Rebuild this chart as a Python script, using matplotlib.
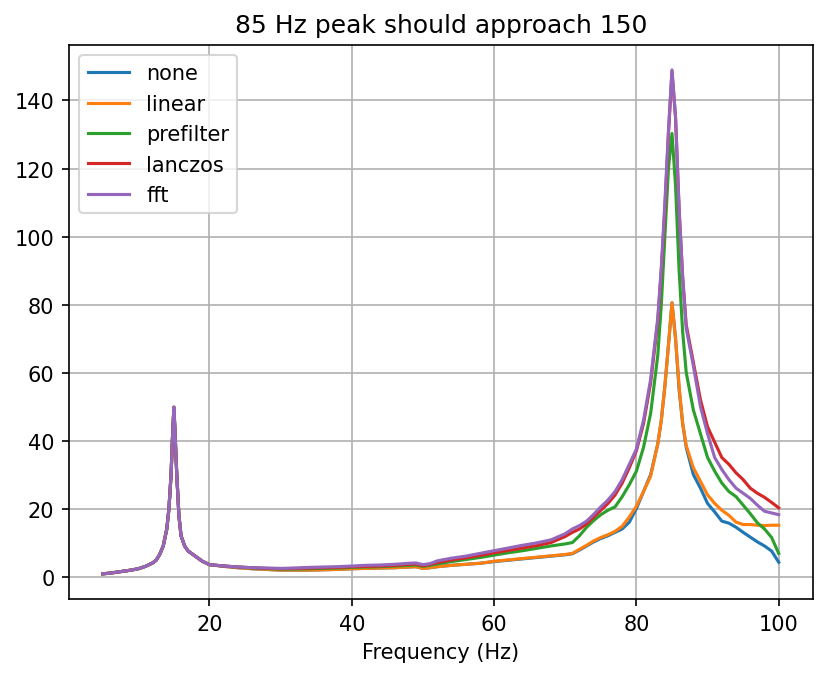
import numpy as np
import matplotlib
matplotlib.use('Agg')
import matplotlib.pyplot as plt

# shared low-frequency part (all methods agree around the 15 Hz peak)
freq_low = [5, 6, 7, 8, 9, 10, 11, 12, 12.5, 13, 13.5, 14, 14.3, 14.6, 14.8, 15,
            15.2, 15.4, 15.7, 16, 16.5, 17, 18, 19]
peak_low = [0.8, 1.0, 1.3, 1.6, 1.9, 2.3, 3.0, 4.0, 4.8, 6.5, 9.0, 14.0, 20.0, 30.0, 41.0, 49.8,
            40.0, 30.0, 18.0, 12.0, 9.0, 7.5, 6.0, 4.5]

freq_high = [20, 22, 24, 26, 28, 30, 32, 34, 36, 38, 40, 42, 44, 46, 48, 49, 50, 51, 52,
             54, 56, 58, 60, 62, 64, 66, 68, 70, 71, 72, 73, 74, 75, 76, 77, 78, 79, 80,
             81, 82, 83, 83.5, 84, 84.5, 85, 85.5, 86, 86.5, 87, 88, 89, 90, 91, 92, 93,
             94, 95, 96, 97, 98, 99, 100]

none_high = [3.5, 3.0, 2.6, 2.3, 2.1, 1.9, 1.9, 1.9, 2.0, 2.1, 2.3, 2.4, 2.5, 2.6, 2.8, 2.9, 2.4, 2.6, 2.9,
             3.3, 3.6, 3.9, 4.4, 4.8, 5.2, 5.6, 6.0, 6.4, 6.7, 7.8, 9.0, 10.2, 11.2, 12.0, 13.0, 14.0, 16.0, 20.0,
             25.0, 30.0, 39.0, 46.0, 56.0, 68.0, 80.5, 70.0, 55.0, 45.0, 38.0, 30.0, 26.0, 21.5, 19.0, 16.3, 15.7,
             14.5, 13.0, 11.6, 10.2, 9.0, 7.5, 4.2]

linear_high = [3.5, 3.0, 2.6, 2.3, 2.1, 1.9, 1.9, 1.9, 2.0, 2.1, 2.3, 2.4, 2.5, 2.6, 2.8, 2.9, 2.4, 2.6, 2.9,
               3.3, 3.6, 3.9, 4.5, 4.9, 5.3, 5.7, 6.1, 6.5, 6.8, 8.0, 9.2, 10.5, 11.5, 12.3, 13.3, 14.8, 17.5, 20.7,
               25.0, 29.5, 39.0, 46.0, 56.0, 68.0, 80.5, 70.0, 56.0, 45.0, 38.5, 32.0, 28.0, 24.0, 21.5, 19.5, 18.0,
               16.0, 15.3, 15.3, 15.1, 15.0, 15.1, 15.1]

prefilter_high = [3.5, 3.1, 2.8, 2.5, 2.3, 2.2, 2.2, 2.3, 2.4, 2.5, 2.7, 2.8, 2.9, 3.1, 3.3, 3.4, 3.0, 3.3, 3.7,
                  4.4, 5.0, 5.6, 6.3, 7.0, 7.6, 8.3, 9.0, 9.6, 10.0, 12.0, 14.5, 16.5, 18.2, 19.5, 20.5, 23.5, 27.0, 31.0,
                  38.0, 48.0, 65.0, 80.0, 100.0, 120.0, 130.3, 115.0, 90.0, 72.0, 60.0, 49.0, 42.0, 35.0, 31.0, 27.5, 25.0,
                  23.5, 21.0, 18.5, 15.8, 14.0, 11.5, 6.8]

lanczos_high = [3.5, 3.1, 2.8, 2.6, 2.4, 2.3, 2.4, 2.5, 2.6, 2.7, 2.9, 3.0, 3.1, 3.3, 3.6, 3.7, 3.2, 3.6, 4.1,
                4.9, 5.5, 6.2, 7.0, 7.7, 8.4, 9.1, 10.0, 11.8, 13.0, 14.0, 15.5, 17.5, 19.5, 21.5, 24.0, 27.5, 32.0, 37.0,
                45.0, 57.0, 75.0, 90.0, 108.0, 130.0, 148.5, 135.0, 108.0, 88.0, 74.0, 63.0, 52.0, 44.0, 39.5, 35.0, 33.0,
                30.5, 28.5, 26.0, 24.5, 23.3, 21.8, 20.2]

fft_high = [3.5, 3.1, 2.8, 2.6, 2.5, 2.4, 2.5, 2.7, 2.8, 2.9, 3.1, 3.3, 3.4, 3.6, 3.9, 4.0, 3.5, 3.8, 4.6,
            5.4, 6.0, 6.8, 7.6, 8.4, 9.2, 9.9, 10.8, 12.6, 14.0, 15.0, 16.3, 18.3, 20.5, 22.5, 25.0, 28.5, 33.0, 37.5,
            46.0, 58.0, 76.0, 91.0, 110.0, 131.0, 149.0, 135.0, 108.0, 88.0, 73.0, 62.0, 50.0, 42.0, 35.0, 31.5, 28.5,
            26.0, 24.5, 23.0, 21.0, 19.2, 18.7, 18.2]

freqs = np.array(freq_low + freq_high)
series = {
    'none': none_high,
    'linear': linear_high,
    'prefilter': prefilter_high,
    'lanczos': lanczos_high,
    'fft': fft_high,
}

fig = plt.figure(figsize=(5.52, 4.52), dpi=150)
ax = fig.add_axes([0.0833, 0.115, 0.898, 0.8176])
for name, vals in series.items():
    ax.plot(freqs, peak_low + vals, label=name)

ax.grid(True)
ax.set_xlabel('Frequency (Hz)')
ax.set_title('85 Hz peak should approach 150')
ax.legend(loc='upper left')
fig.savefig('out.png', dpi=150)
